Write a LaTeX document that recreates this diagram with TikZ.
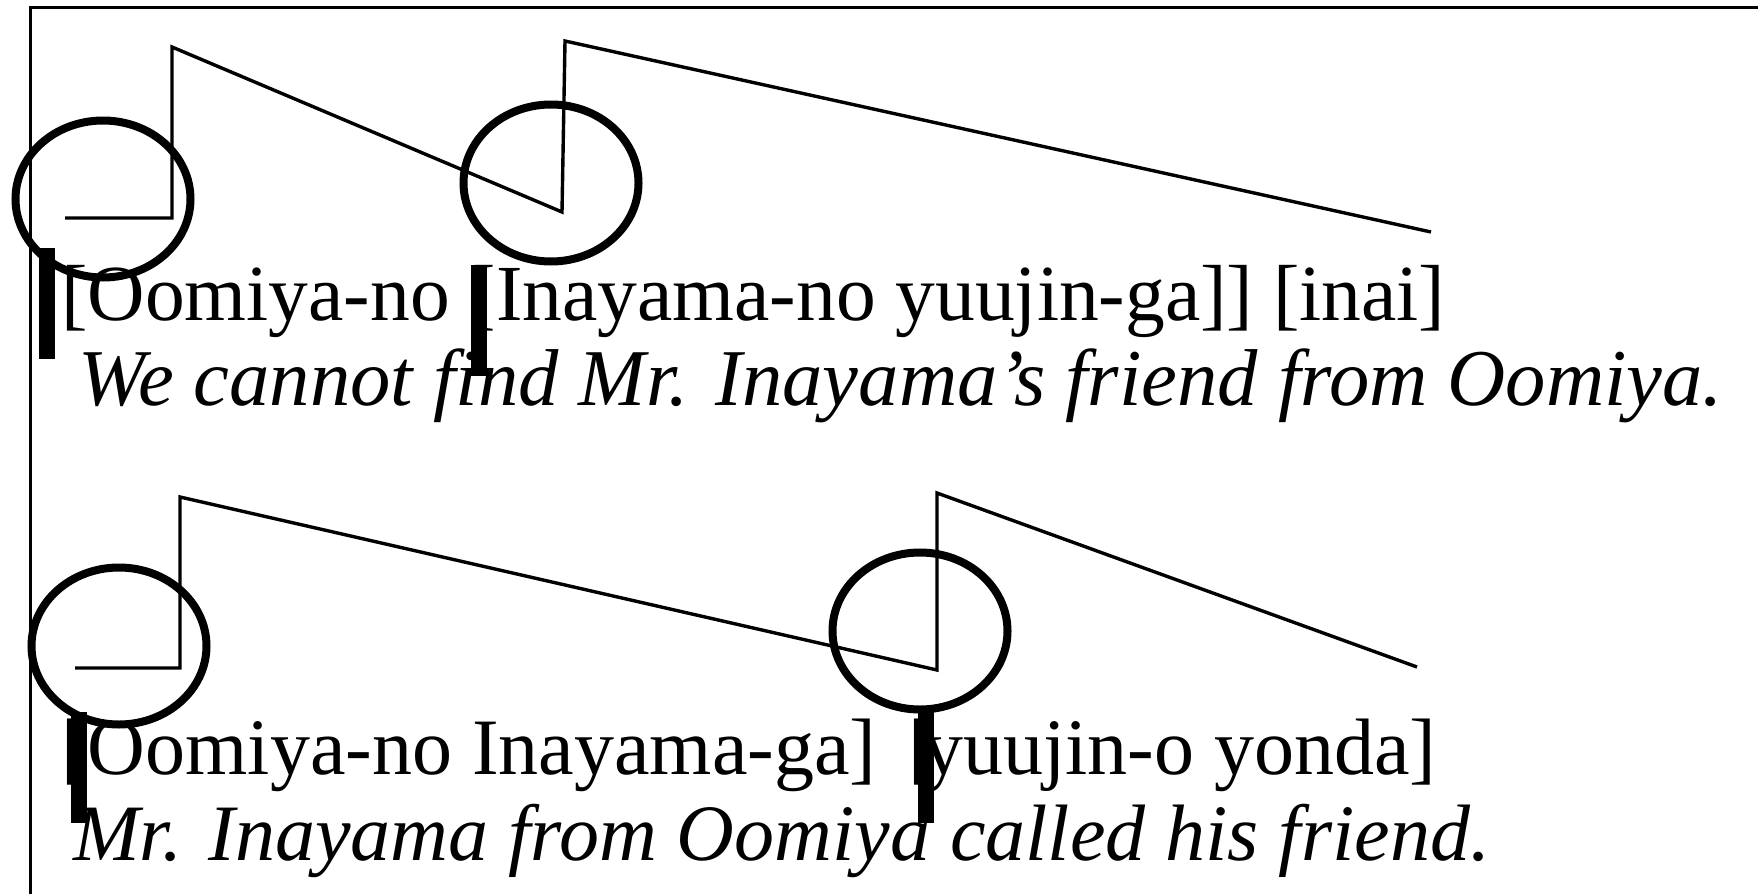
\documentclass[tikz,border=0pt]{standalone}
\usepackage{fontspec}
\setmainfont{Liberation Serif}
\usetikzlibrary{shapes.geometric}
\begin{document}
\begin{tikzpicture}[x=1pt, y=-1pt,
    contour/.style = {line width=3.4pt},
    ring/.style = {draw, ellipse, line width=8pt, minimum width=175pt, minimum height=157pt, inner sep=0pt},
    bar/.style = {fill=black, minimum width=16pt, minimum height=111pt, inner sep=0pt},
    words/.style = {anchor=base west, inner sep=0pt, font=\fontsize{79.5pt}{90pt}\selectfont},
    gloss/.style = {words, font=\fontsize{80pt}{90pt}\selectfont\itshape}]
    \useasboundingbox (0,0) rectangle (1758,894);
    \draw[line width=3pt] (30,894) -- (30,7) -- (1758,7);

    \coordinate (a0) at (65,218);
    \coordinate (a1) at (172,218);
    \coordinate (a2) at (172,47);
    \coordinate (a3) at (562,212);
    \coordinate (a4) at (565,41);
    \coordinate (a5) at (1431,232);
    \draw[contour] (a0) -- (a1) -- (a2) -- (a3) -- (a4) -- (a5);

    \coordinate (b0) at (75,668);
    \coordinate (b1) at (180,668);
    \coordinate (b2) at (180,497);
    \coordinate (b3) at (937,670);
    \coordinate (b4) at (937,493);
    \coordinate (b5) at (1417,667);
    \draw[contour] (b0) -- (b1) -- (b2) -- (b3) -- (b4) -- (b5);

    \node[words] (row1) at (61,320) {[Oomiya-no [Inayama-no yuujin-ga]] [inai]};
    \node[gloss, font=\fontsize{80.6pt}{90pt}\selectfont\itshape] (gloss1) at (78,405) {We cannot find Mr. Inayama’s friend from Oomiya.};
    \node[words, font=\fontsize{80pt}{90pt}\selectfont] (row2) at (61,774) {[Oomiya-no Inayama-ga] \kern12pt[\kern-12pt yuujin-o yonda]};
    \node[gloss] (gloss2) at (73,860) {Mr. Inayama from Oomiya called his friend.};

    \node[ring] (r1) at (103,199) {};
    \node[ring] (r2) at (551,183) {};
    \node[ring] (r3) at (119,646) {};
    \node[ring] (r4) at (920,631) {};

    \node[bar] (m1) at (47,303) {};
    \node[bar] (m2) at (479,320) {};
    \node[bar] (m3) at (79,767) {};
    \node[bar] (m4) at (926,767) {};
\end{tikzpicture}
\end{document}
